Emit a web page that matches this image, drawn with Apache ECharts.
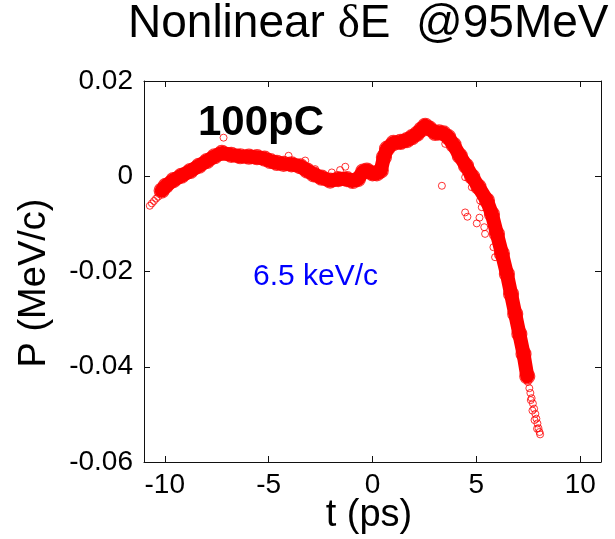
<!DOCTYPE html>
<html>
<head>
<meta charset="utf-8">
<script src="https://cdn.jsdelivr.net/npm/echarts@6/dist/echarts.min.js"></script>
<style>html,body{margin:0;padding:0;background:#fff;}#c{width:615px;height:539px;}</style>
</head>
<body>
<div id="c"></div>
<script>
// Tick values
var xTicks = [-10, -5, 0, 5, 10];
var yTicks = [-0.06, -0.04, -0.02, 0, 0.02];

// Dense band of particles (centre line, t [ps], P [MeV/c])
var bandT = [-10.15,-9.95,-9.58,-9.20,-8.77,-8.35,-7.97,-7.60,-7.25,-6.80,-6.37,-5.95,-5.56,-5.20,-4.92,-4.60,-4.28,-3.90,-3.48,-3.15,-2.84,-2.45,-2.04,-1.65,-1.23,-0.95,-0.70,-0.45,-0.27,0.00,0.21,0.40,0.55,0.70,1.01,1.35,1.66,1.90,2.14,2.35,2.54,2.75,3.02,3.20,3.42,3.65,3.90,4.20,4.50,4.80,5.10,5.51,5.75,5.99,6.23,6.47,6.67,6.87,7.07,7.27,7.45];
var bandP = [-0.0030,-0.0020,-0.0008,0.0001,0.0011,0.0022,0.0032,0.0042,0.0049,0.0045,0.0042,0.0041,0.0040,0.0037,0.0032,0.0028,0.0026,0.0025,0.0021,0.0012,0.0004,-0.0003,-0.0009,-0.0006,-0.0006,-0.0010,-0.0006,0.0010,0.0012,0.0006,0.0006,0.0012,0.0040,0.0058,0.0070,0.0072,0.0076,0.0082,0.0089,0.0098,0.0106,0.0100,0.0091,0.0092,0.0090,0.0082,0.0066,0.0043,0.0022,-0.0001,-0.0022,-0.0051,-0.0080,-0.0121,-0.0162,-0.0205,-0.0247,-0.0289,-0.0331,-0.0373,-0.0420];

// Individual (separated) particles
var dotT = [-10.72,-10.62,-10.52,-10.42,-10.32,-7.17,-4.04,-3.24,-2.76,-1.96,-1.56,-1.31,3.34,3.50,4.46,4.46,4.57,5.02,5.15,5.38,5.42,5.18,4.78,5.82,5.90,5.26,7.48,7.55,7.60,7.66,7.72,7.78,7.84,7.89,7.94,7.99,8.04,8.07,7.62,7.70,7.80,7.92];
var dotP = [-0.0062,-0.0057,-0.0052,-0.0047,-0.0043,0.0081,0.0043,0.0033,0.0015,0.0008,0.0013,0.0020,-0.0020,0.0068,-0.0002,-0.0076,-0.0085,-0.0099,-0.0087,-0.0107,-0.0121,-0.0051,-0.0023,-0.0149,-0.0170,-0.0065,-0.0432,-0.0445,-0.0455,-0.0466,-0.0477,-0.0488,-0.0499,-0.0509,-0.0519,-0.0529,-0.0537,-0.0542,-0.0470,-0.0492,-0.0512,-0.0530];

var titleText = 'Nonlinear δE  @95MeV';
var xName = 't (ps)';
var yName = 'P (MeV/c)';
var chargeText = '100pC';
var spreadText = '6.5 keV/c';

var bandData = bandT.map(function (t, i) { return [t, bandP[i]]; });
var dotData = dotT.map(function (t, i) { return [t, dotP[i]]; });

var FONT = '"Liberation Sans", Arial, Helvetica, sans-serif';
var axisLineStyle = { color: '#111', width: 1 };

function xAx(pos, showLabel) {
  return {
    type: 'value', position: pos, min: -11, max: 11,
    axisLine: { show: true, onZero: false, lineStyle: axisLineStyle },
    axisTick: { show: true, inside: true, length: 6, customValues: xTicks, lineStyle: axisLineStyle },
    axisLabel: { show: showLabel, customValues: xTicks, fontSize: 28, fontFamily: FONT, color: '#000', margin: 9 },
    splitLine: { show: false }
  };
}
function yAx(pos, showLabel) {
  return {
    type: 'value', position: pos, min: -0.06, max: 0.02,
    axisLine: { show: true, onZero: false, lineStyle: axisLineStyle },
    axisTick: { show: true, inside: true, length: 6, customValues: yTicks, lineStyle: axisLineStyle },
    axisLabel: { show: showLabel, customValues: yTicks, fontSize: 28, fontFamily: FONT, color: '#000', margin: 11,
      formatter: function (v) { return String(+(+v).toFixed(2)); } },
    splitLine: { show: false }
  };
}

var chart = echarts.init(document.getElementById('c'), null, { renderer: 'canvas' });
chart.setOption({
  animation: false,
  backgroundColor: '#fff',
  grid: { left: 144, right: 14, top: 81, bottom: 77, containLabel: false },
  xAxis: [xAx('bottom', true), xAx('top', false)],
  yAxis: [yAx('left', true), yAx('right', false)],
  series: [
    {
      type: 'line', data: bandData, xAxisIndex: 0, yAxisIndex: 0,
      showSymbol: false, symbol: 'none',
      lineStyle: { color: '#ff0000', width: 14, cap: 'round', join: 'round' },
      z: 2
    },
    {
      type: 'scatter', data: bandData, xAxisIndex: 0, yAxisIndex: 0,
      symbol: 'circle', symbolSize: 15,
      itemStyle: { color: 'rgba(255,255,255,0)', borderColor: '#ff0000', borderWidth: 1.2 },
      z: 2
    },
    {
      type: 'scatter', data: dotData, xAxisIndex: 0, yAxisIndex: 0,
      symbol: 'circle', symbolSize: 7,
      itemStyle: { color: 'rgba(255,255,255,0)', borderColor: '#ff0000', borderWidth: 1 },
      z: 3
    }
  ],
  graphic: [
    { type: 'text', left: 128, top: 1, z: 10,
      style: { text: '{a|Nonlinear }{d|δ}{a|E  @95MeV}', rich: {
        a: { fontSize: 46, fontFamily: FONT, fill: '#000' },
        d: { fontSize: 47, fontFamily: '"Liberation Serif", "Times New Roman", serif', fill: '#000' } } } },
    { type: 'text', x: 198, y: 123, z: 10,
      style: { text: chargeText, fontSize: 42, fontWeight: 'bold', fontFamily: FONT, fill: '#000', verticalAlign: 'middle', align: 'left' } },
    { type: 'text', x: 253, y: 277, z: 10,
      style: { text: spreadText, fontSize: 30, fontFamily: FONT, fill: '#0000ff', verticalAlign: 'middle', align: 'left' } },
    { type: 'text', x: 369, y: 516, z: 10,
      style: { text: xName, fontSize: 38, fontFamily: FONT, fill: '#000', verticalAlign: 'middle', align: 'center' } },
    { type: 'text', x: 35, y: 283, rotation: Math.PI / 2, z: 10,
      style: { text: yName, fontSize: 38, fontFamily: FONT, fill: '#000', verticalAlign: 'middle', align: 'center' } }
  ]
});
</script>
</body>
</html>
